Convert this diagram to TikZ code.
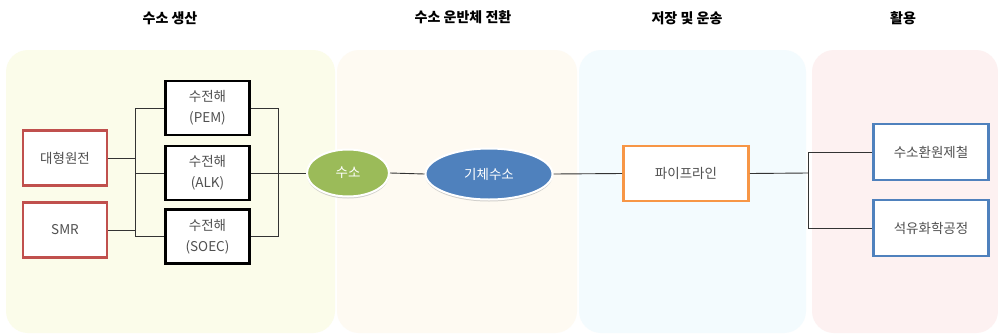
\documentclass[tikz,border=0pt]{standalone}
\usepackage{fontspec}
\setmainfont{Noto Sans CJK KR}
\usetikzlibrary{shapes.geometric,shadows}
\definecolor{redc}{HTML}{C0504D}
\definecolor{greenc}{HTML}{9BBB59}
\definecolor{bluec}{HTML}{4F81BD}
\definecolor{orangec}{HTML}{F79646}
\definecolor{txtc}{HTML}{505050}
\definecolor{pan1}{HTML}{FBFCEA}
\definecolor{pan2}{HTML}{FEFAF2}
\definecolor{pan3}{HTML}{F3FBFE}
\definecolor{pan4}{HTML}{FDF1F1}
\definecolor{linec}{HTML}{333333}
\begin{document}
\begin{tikzpicture}[x=1pt,y=-1pt,
  boxbase/.style={rectangle,fill=white,line width=2.6pt,text=txtc,
    font=\fontsize{13.5}{21}\selectfont,align=center,inner sep=0pt},
  redbox/.style={boxbase,draw=redc,minimum width=84pt,minimum height=55pt},
  blackbox/.style={boxbase,draw=black,minimum width=84pt,minimum height=54pt},
  orangebox/.style={boxbase,draw=orangec,minimum width=125pt,minimum height=55pt},
  bluebox/.style={boxbase,draw=bluec,minimum width=115pt,minimum height=56pt},
  oval/.style={ellipse,draw=white,line width=2pt,text=white,inner sep=0pt,
    font=\fontsize{13.5}{16}\selectfont,
    drop shadow={shadow xshift=0pt,shadow yshift=-2pt,fill=black!35,opacity=0.5}},
  title/.style={font=\fontsize{14}{16}\selectfont\bfseries,text=black},
  conn/.style={draw=linec,line width=0.9pt}
]
\useasboundingbox (0,0) rectangle (998,335);
\fill[white] (0,0) rectangle (998,335);
% panels
\fill[pan1,rounded corners=22pt] (6,50) rectangle (335,333);
\fill[pan2,rounded corners=22pt] (337,50) rectangle (577,333);
\fill[pan3,rounded corners=22pt] (579,50) rectangle (806,333);
\fill[pan4,rounded corners=22pt] (812,50) rectangle (998,333);
% titles
\node[title] (t1) at (170,18) {수소 생산};
\node[title] (t2) at (463,17) {수소 운반체 전환};
\node[title] (t3) at (687,18) {저장 및 운송};
\node[title] (t4) at (903,18) {활용};
% nodes
\node[redbox] (npp) at (65,158) {대형원전};
\node[redbox] (smr) at (65,230) {SMR};
\node[blackbox] (pem) at (207.5,108) {수전해\\(PEM)};
\node[blackbox] (alk) at (207.5,173) {수전해\\(ALK)};
\node[blackbox] (soec) at (207.5,236.5) {수전해\\(SOEC)};
\node[oval,fill=greenc,minimum width=82pt,minimum height=47pt] (h2) at (348,173) {수소};
\node[oval,fill=bluec,minimum width=127pt,minimum height=51pt] (gas) at (489,174) {기체수소};
\node[orangebox] (pipe) at (686,173.5) {파이프라인};
\node[bluebox] (steel) at (931,152) {수소환원제철};
\node[bluebox] (petro) at (931,228) {석유화학공정};
% junction coordinates
\coordinate (jl) at (135,158);
\coordinate (jr) at (278,173);
\coordinate (jp) at (808,173);
% left bus
\draw[conn] (npp.east) -- (jl);
\draw[conn] (smr.east) -- (135,230);
\draw[conn] (pem.west) -| (jl);
\draw[conn] (soec.west) -| (jl);
\draw[conn] (alk.west) -- (alk.west -| jl);
% right bus
\draw[conn] (pem.east) -| (jr);
\draw[conn] (soec.east) -| (jr);
\draw[conn] (alk.east) -- (jr);
\draw[conn] (jr) -- (h2.west);
\draw[conn] (h2.east) -- (gas.west);
\draw[conn] (gas.east) -- (pipe.west);
% pipeline to usage
\draw[conn] (pipe.east) -- (jp);
\draw[conn] (jp) |- (steel.west);
\draw[conn] (jp) |- (petro.west);
\end{tikzpicture}
\end{document}
